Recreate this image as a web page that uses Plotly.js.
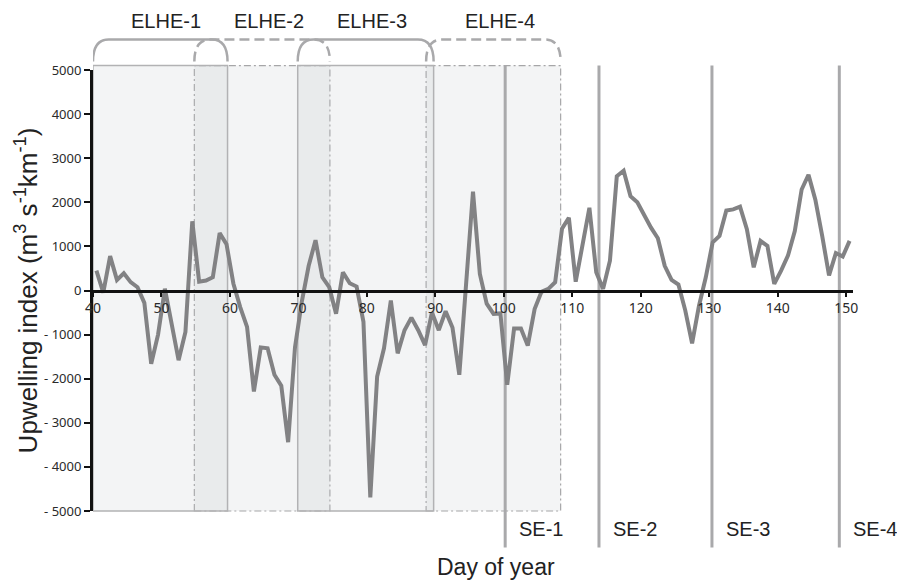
<!DOCTYPE html>
<html>
<head>
<meta charset="utf-8">
<script src="https://cdn.plot.ly/plotly-3.0.1.min.js"></script>
<style>html,body{margin:0;padding:0;background:#fff;}#chart{width:897px;height:587px;}</style>
</head>
<body>
<div id="chart"></div>
<script>
// ---- data ----
const days = [40.5,41.5,42.5,43.5,44.5,45.5,46.5,47.5,48.5,49.5,50.5,51.5,52.5,53.5,54.5,55.5,56.5,57.5,58.5,59.5,
  60.5,61.5,62.5,63.5,64.5,65.5,66.5,67.5,68.5,69.5,70.5,71.5,72.5,73.5,74.5,75.5,76.5,77.5,78.5,79.5,
  80.5,81.5,82.5,83.5,84.5,85.5,86.5,87.5,88.5,89.5,90.5,91.5,92.5,93.5,94.5,95.5,96.5,97.5,98.5,99.5,
  100.5,101.5,102.5,103.5,104.5,105.5,106.5,107.5,108.5,109.5,110.5,111.5,112.5,113.5,114.5,115.5,116.5,117.5,118.5,119.5,
  120.5,121.5,122.5,123.5,124.5,125.5,126.5,127.5,128.5,129.5,130.5,131.5,132.5,133.5,134.5,135.5,136.5,137.5,138.5,139.5,
  140.5,141.5,142.5,143.5,144.5,145.5,146.5,147.5,148.5,149.5,150.5];
const upwelling = [450,-50,780,240,390,190,75,-280,-1660,-1000,40,-820,-1580,-940,1570,200,225,300,1300,1050,
  160,-375,-825,-2290,-1290,-1310,-1910,-2160,-3440,-1290,-250,560,1140,300,75,-525,410,165,90,-710,
  -4690,-1950,-1310,-225,-1425,-900,-615,-900,-1240,-500,-900,-470,-840,-1910,150,2240,375,-300,-530,-520,
  -2140,-860,-860,-1250,-420,-30,37,187,1400,1650,200,1020,1875,412,37,675,2590,2715,2140,2000,
  1700,1425,1185,560,240,135,-450,-1200,-350,300,1090,1240,1815,1840,1900,1390,525,1125,1010,150,
  450,790,1350,2290,2625,2060,1240,340,850,770,1125];
const elheNames = ['ELHE-1','ELHE-2','ELHE-3','ELHE-4'];
const elheStart = [40, 54.8, 69.9, 88.65];
const elheEnd   = [59.65, 74.6, 89.75, 108.3];
const seNames = ['SE-1','SE-2','SE-3','SE-4'];
const seDays  = [100.2, 113.9, 130.4, 149.0];
const yTickVals = [-5000,-4000,-3000,-2000,-1000,0,1000,2000,3000,4000,5000];
const yTickText = ['- 5000','- 4000','- 3000','- 2000','- 1000','0','1000','2000','3000','4000','5000'];

// ---- styling helpers ----
const gray = '#a9a9ab';
const shapes = [];
const boxTop = 1.01, brBot = 1.019, brTop = 1.069, r = 2.3;
const solidEvent = [true, false, true, false];
// dashed boxes first, then solid
[1,3,0,2].forEach(i => {
  shapes.push({type:'rect', xref:'x', yref:'paper', x0:elheStart[i], x1:elheEnd[i], y0:0, y1:boxTop,
    fillcolor:'rgba(190,196,202,0.18)', layer:'below',
    line: solidEvent[i] ? {color:'#b2b2b4', width:1.5} : {color:'#a6a6a8', width:1.2, dash:'7px,3px,2px,3px'}});
});
seDays.forEach(d => {
  shapes.push({type:'line', xref:'x', yref:'paper', x0:d, x1:d, y0:-0.083, y1:boxTop, layer:'below',
    line:{color:gray, width:3}});
});
elheStart.forEach((s,i) => {
  const e = elheEnd[i];
  const p = `M ${s},${brBot} Q ${s},${brTop} ${s+r},${brTop} L ${e-r},${brTop} Q ${e},${brTop} ${e},${brBot}`;
  shapes.push({type:'path', xref:'x', yref:'paper', path:p, layer:'above',
    line: solidEvent[i] ? {color:gray, width:2.5} : {color:gray, width:2.5, dash:'10px,5px'}});
});

const labelFont = {family:'Liberation Sans, Arial, sans-serif', size:20, color:'#222'};
const annotations = [];
const elheLabelX = [50.66, 65.7, 80.8, 99.5];
elheNames.forEach((n,i) => annotations.push({text:n, x:elheLabelX[i], xref:'x', y:1.11, yref:'paper',
  showarrow:false, font:labelFont, xanchor:'center', yanchor:'middle'}));
seNames.forEach((n,i) => annotations.push({text:n, x:seDays[i], xref:'x', y:-0.04, yref:'paper',
  xshift:12, showarrow:false, font:labelFont, xanchor:'left', yanchor:'middle'}));
annotations.push({text:'Day of year', x:0.53, xref:'paper', y:-0.127, yref:'paper', showarrow:false,
  font:{family:'Liberation Sans, Arial, sans-serif', size:23, color:'#222'}, xanchor:'center', yanchor:'middle'});
annotations.push({text:'Upwelling index (m<sup>3</sup> s<sup>-1</sup>km<sup>-1</sup>)', x:-0.087, xref:'paper', y:0.5, yref:'paper',
  textangle:-90, showarrow:false, font:{family:'Liberation Sans, Arial, sans-serif', size:26, color:'#222'},
  xanchor:'center', yanchor:'middle'});

const trace = {x:days, y:upwelling, type:'scatter', mode:'lines',
  line:{color:'#828284', width:4}, hoverinfo:'x+y'};

const layout = {
  width:897, height:587,
  margin:{l:93, r:44, t:70, b:76},
  paper_bgcolor:'#fff', plot_bgcolor:'rgba(0,0,0,0)',
  showlegend:false,
  xaxis:{range:[40,151], tick0:40, dtick:10, showgrid:false, zeroline:false,
    showline:true, linecolor:'#111', linewidth:3, ticks:'outside', ticklen:4, tickwidth:2, tickcolor:'#111',
    anchor:'free', position:0.5,
    tickfont:{family:'Noto Sans, sans-serif', size:14, color:'#2a2a2a'}},
  yaxis:{range:[-5000,5000], tickvals:yTickVals, ticktext:yTickText, showgrid:false, zeroline:false,
    showline:true, linecolor:'#111', linewidth:3, ticks:'outside', ticklen:6, tickwidth:2, tickcolor:'#111',
    tickfont:{family:'Noto Sans, sans-serif', size:13, color:'#2a2a2a'}},
  shapes:shapes,
  annotations:annotations
};
Plotly.newPlot('chart', [trace], layout, {displayModeBar:false, staticPlot:true});
</script>
</body>
</html>
